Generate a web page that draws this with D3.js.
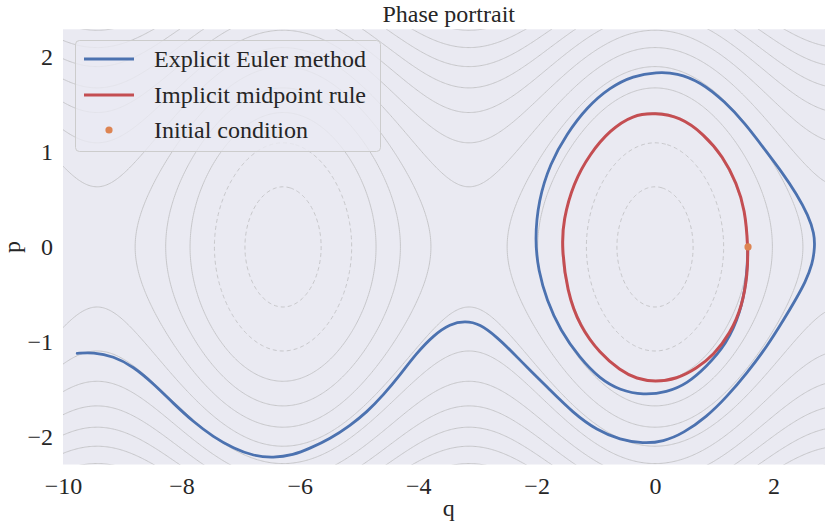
<!DOCTYPE html>
<html>
<head>
<meta charset="utf-8">
<script src="https://cdn.jsdelivr.net/npm/d3@7"></script>
<style>
  body { margin: 0; background: #fff; }
  text { font-family: "Liberation Serif", "Times New Roman", serif; fill: #262626; }
</style>
</head>
<body>
<script>
// trajectories
const eulerQ = [1.57, 1.55, 1.44, 1.21, 0.87, 0.54, 0.20, -0.20, -0.59, -0.93, -1.27, -1.60, -1.83, -1.97, -2.03,
  -1.97, -1.77, -1.49, -1.15, -0.76, -0.37, 0.03, 0.37, 0.76, 1.18, 1.52, 1.86, 2.14, 2.39, 2.59, 2.69, 2.70,
  2.66, 2.54, 2.37, 2.20, 1.89, 1.55, 1.21, 0.87, 0.48, 0.14, -0.20, -0.59, -0.98, -1.38, -1.83, -2.11, -2.39,
  -2.67, -2.96, -3.21, -3.46, -3.74, -4.03, -4.31, -4.59, -4.87, -5.15, -5.49, -5.83, -6.11, -6.45, -6.78,
  -7.12, -7.46, -7.80, -8.13, -8.47, -8.81, -9.15, -9.49, -9.76];
const eulerP = [0, -0.35, -0.70, -1.02, -1.26, -1.44, -1.53, -1.56, -1.51, -1.39, -1.17, -0.88, -0.56, -0.25, 0.07,
  0.49, 0.88, 1.19, 1.47, 1.68, 1.80, 1.84, 1.83, 1.74, 1.53, 1.30, 1.02, 0.79, 0.56, 0.33, 0.14, 0,
  -0.18, -0.37, -0.56, -0.74, -1.05, -1.33, -1.58, -1.79, -1.96, -2.05, -2.07, -2.03, -1.93, -1.75, -1.47, -1.30, -1.12,
  -0.95, -0.81, -0.78, -0.81, -0.93, -1.12, -1.35, -1.56, -1.74, -1.88, -2.02, -2.12, -2.19, -2.22, -2.20,
  -2.12, -2.00, -1.84, -1.65, -1.44, -1.26, -1.15, -1.11, -1.12];

const midQ = [1.571, 1.565, 1.47, 1.27, 0.99, 0.70, 0.37, 0, -0.31, -0.59, -0.93, -1.27, -1.49, -1.575,
  -1.55, -1.38, -1.10, -0.76, -0.37, 0, 0.42, 0.82, 1.15, 1.38, 1.52];
const midP = [0, -0.28, -0.63, -0.91, -1.14, -1.28, -1.39, -1.42, -1.39, -1.30, -1.12, -0.84, -0.46, 0,
  0.28, 0.67, 0.98, 1.23, 1.39, 1.41, 1.37, 1.19, 0.95, 0.67, 0.39];

const initQ = [1.571];
const initP = [0];

const energyLevels = [-0.8, -0.4, 0, 0.4, 0.8, 1.2, 1.6, 2.0, 2.4, 2.8, 3.2, 3.6];
const xTicks = [-10, -8, -6, -4, -2, 0, 2];
const yTicks = [-2, -1, 0, 1, 2];
const legendLabels = ["Explicit Euler method", "Implicit midpoint rule", "Initial condition"];

// pendulum hamiltonian used for the background contours
const energy = (q, p) => p * p / 2 - Math.cos(q);

const w = 825, h = 526;
const plotLeft = 63, plotRight = 834.4, plotTop = 29.3, plotBottom = 464.5;

const svg = d3.select("body").append("svg").attr("width", w).attr("height", h);

const x = d3.scaleLinear().domain([-10, 3.03]).range([plotLeft, plotRight]);
const y = d3.scaleLinear().domain([-2.29, 2.29]).range([plotBottom, plotTop]);

svg.append("defs").append("clipPath").attr("id", "plotclip")
  .append("rect").attr("x", plotLeft).attr("y", plotTop)
  .attr("width", plotRight - plotLeft).attr("height", plotBottom - plotTop);

svg.append("rect").attr("x", plotLeft).attr("y", plotTop)
  .attr("width", plotRight - plotLeft).attr("height", plotBottom - plotTop).attr("fill", "#eaeaf2");

const plot = svg.append("g").attr("clip-path", "url(#plotclip)");

// contour grid, a little bigger than the axes so the edge rings stay hidden
const q0 = -10.6, q1 = 3.6, p0 = -2.8, p1 = 2.8, step = 0.02;
const nx = Math.round((q1 - q0) / step) + 1, ny = Math.round((p1 - p0) / step) + 1;
const grid = new Array(nx * ny);
for (let j = 0; j < ny; j++) {
  for (let i = 0; i < nx; i++) {
    grid[j * nx + i] = energy(q0 + i * step, p0 + j * step);
  }
}
const contours = d3.contours().size([nx, ny]).thresholds(energyLevels)(grid);
const toPlot = d3.geoTransform({
  point: function (cx, cy) {
    this.stream.point(x(q0 + (cx - 0.5) * step), y(p0 + (cy - 0.5) * step));
  }
});
const contourPath = d3.geoPath(toPlot);

plot.selectAll("path.contour")
  .data(contours)
  .enter()
  .append("path")
  .attr("class", "contour")
  .attr("d", contourPath)
  .attr("fill", "none")
  .attr("stroke", "#c6c6c9")
  .attr("stroke-width", 1)
  .attr("stroke-dasharray", (d) => d.value < 0 ? "4,3" : null);

const eulerData = eulerQ.map((q, i) => [q, eulerP[i]]);
const midData = midQ.map((q, i) => [q, midP[i]]);

plot.append("path")
  .attr("d", d3.line().x((d) => x(d[0])).y((d) => y(d[1])).curve(d3.curveBasis)(eulerData))
  .attr("fill", "none").attr("stroke", "#4c72b0").attr("stroke-width", 2.8)
  .attr("stroke-linejoin", "round").attr("stroke-linecap", "round");

plot.append("path")
  .attr("d", d3.line().x((d) => x(d[0])).y((d) => y(d[1])).curve(d3.curveBasisClosed)(midData))
  .attr("fill", "none").attr("stroke", "#c44e52").attr("stroke-width", 3);

plot.selectAll("circle.init")
  .data(initQ.map((q, i) => [q, initP[i]]))
  .enter()
  .append("circle")
  .attr("class", "init")
  .attr("cx", (d) => x(d[0])).attr("cy", (d) => y(d[1]))
  .attr("r", 3.6).attr("fill", "#dd8452");

// axes
const xAxis = svg.append("g").attr("transform", "translate(0," + plotBottom + ")")
  .call(d3.axisBottom(x).tickValues(xTicks).tickFormat(d3.format("d")).tickSize(0).tickPadding(12));
const yAxis = svg.append("g").attr("transform", "translate(" + plotLeft + ",0)")
  .call(d3.axisLeft(y).tickValues(yTicks).tickFormat(d3.format("d")).tickSize(0).tickPadding(10));
[xAxis, yAxis].forEach((a) => {
  a.select(".domain").remove();
  a.selectAll("text").attr("font-size", 24).attr("font-family", "Liberation Serif").attr("fill", "#262626");
});
xAxis.selectAll("text").attr("dy", "0.72em");
yAxis.selectAll("text").attr("dy", "0.33em");

svg.append("text").attr("x", (plotLeft + plotRight) / 2).attr("y", 22)
  .attr("text-anchor", "middle").attr("font-size", 24).text("Phase portrait");
svg.append("text").attr("x", (plotLeft + plotRight) / 2).attr("y", 516)
  .attr("text-anchor", "middle").attr("font-size", 24).text("q");
svg.append("text").attr("transform", "translate(20,247) rotate(-90)")
  .attr("text-anchor", "middle").attr("font-size", 24).text("p");

// legend
const legend = svg.append("g");
legend.append("rect").attr("x", 75.5).attr("y", 40.5).attr("width", 305).attr("height", 111)
  .attr("rx", 4).attr("fill", "#eaeaf2").attr("fill-opacity", 0.8)
  .attr("stroke", "#cccccc").attr("stroke-width", 1);
const rowY = [59, 95, 130];
const legendColors = ["#4c72b0", "#c44e52", "#dd8452"];
legendLabels.forEach((lab, i) => {
  if (i < 2) {
    legend.append("line").attr("x1", 84).attr("x2", 134).attr("y1", rowY[i]).attr("y2", rowY[i])
      .attr("stroke", legendColors[i]).attr("stroke-width", 3);
  } else {
    legend.append("circle").attr("cx", 109).attr("cy", rowY[i]).attr("r", 3.6).attr("fill", legendColors[i]);
  }
  legend.append("text").attr("x", 154).attr("y", rowY[i] + 8).attr("font-size", 24).text(lab);
});
</script>
</body>
</html>
